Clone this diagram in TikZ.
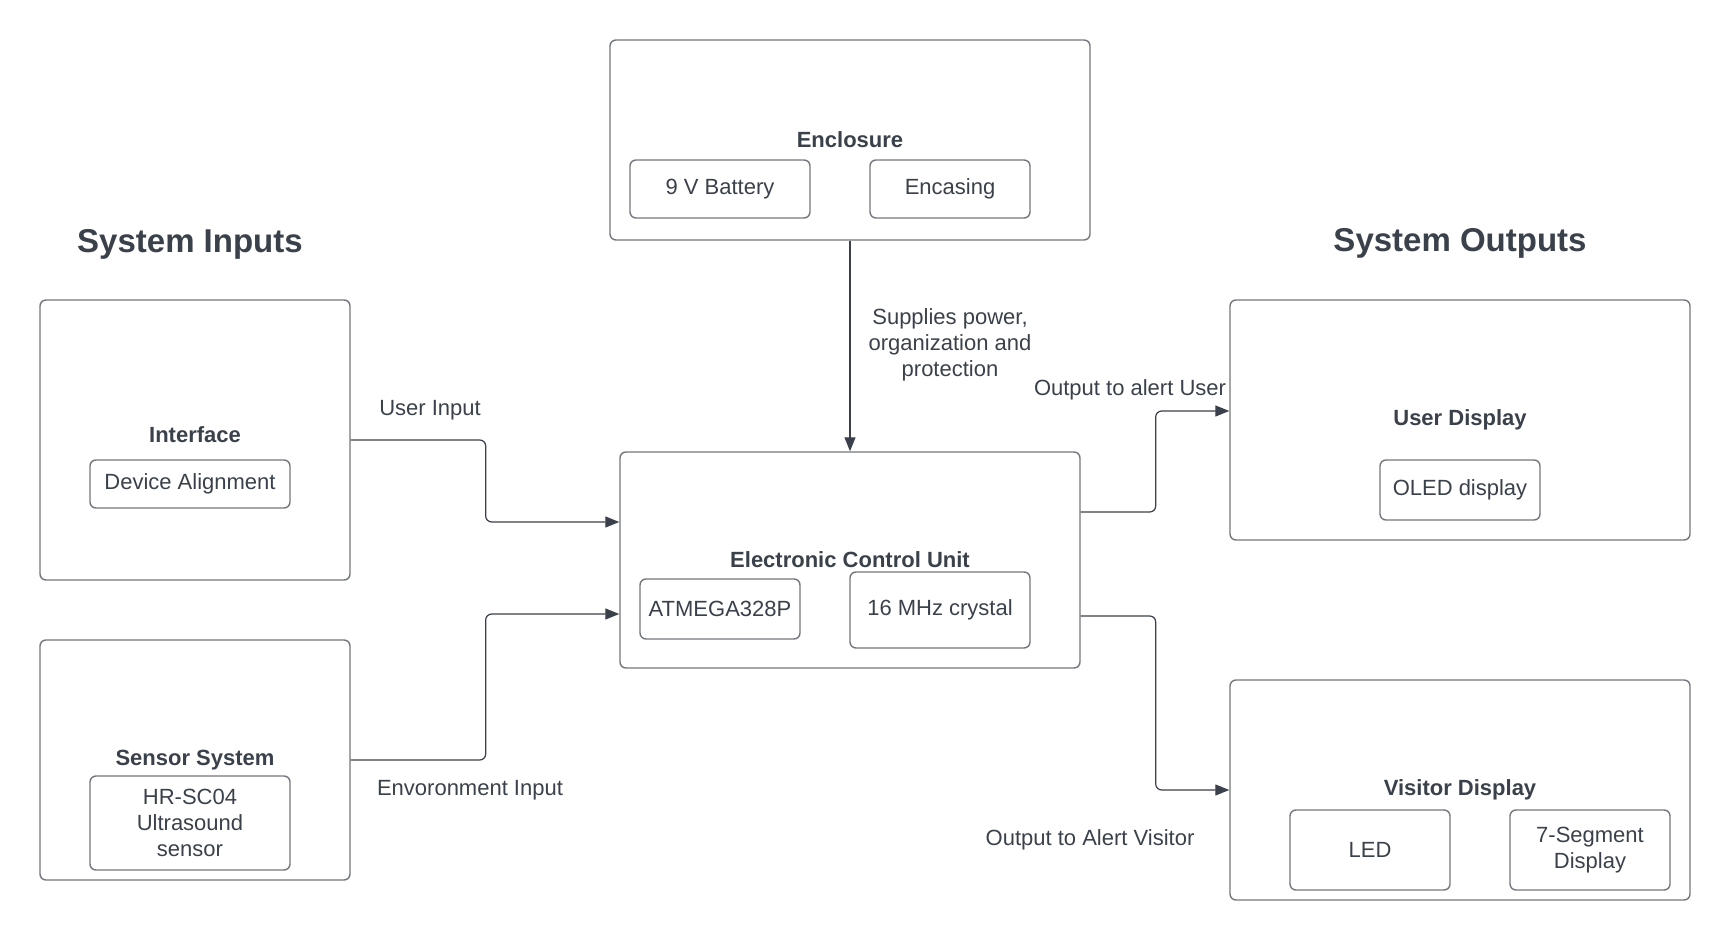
\documentclass[tikz,border=0pt]{standalone}
\usepackage{fontspec}
\setmainfont{Liberation Sans}
\usetikzlibrary{arrows.meta}

\definecolor{ink}{HTML}{3A414A}
\definecolor{rim}{HTML}{73777D}

\begin{document}
\begin{tikzpicture}[x=0.5pt,y=-0.5pt]
				\tikzset{block/.style={draw=rim,line width=0.7pt,rounded corners=3pt,text=ink,align=center,inner sep=0pt,font=\fontsize{11}{13}\selectfont\bfseries},
					part/.style={block,font=\fontsize{11}{13}\selectfont},
					note/.style={text=ink,align=center,inner sep=0pt,font=\fontsize{11}{13}\selectfont},
					head/.style={text=ink,inner sep=0pt,font=\fontsize{16.5}{20}\selectfont\bfseries},
					conn/.style={draw=ink,line width=0.6pt,rounded corners=3pt,-{Triangle[length=7pt,width=5.5pt]}}}
				\useasboundingbox (0,0) rectangle (1730,940);
				% headings
				\node [head] (inhead) at (190,244) {System Inputs};
				\node [head] (outhead) at (1460,243) {System Outputs};
				% main blocks
				\node [block, minimum width=240pt, minimum height=100pt] (encl) at (850,140) {Enclosure};
				\node [block, minimum width=230pt, minimum height=108pt] (ecu) at (850,560) {Electronic Control Unit};
				\node [block, minimum width=155pt, minimum height=140pt] (iface) at (195,440) {};
				\node [text=ink, font=\fontsize{11}{13}\selectfont\bfseries] (ifacename) at (195,435) {Interface};
				\node [block, minimum width=155pt, minimum height=120pt] (sens) at (195,760) {Sensor System};
				\node [block, minimum width=230pt, minimum height=120pt] (udisp) at (1460,420) {User Display};
				\node [block, minimum width=230pt, minimum height=110pt] (vdisp) at (1460,790) {Visitor Display};
				% parts inside the blocks
				\node [part, minimum width=90pt, minimum height=29pt] (batt) at (720,189) {9 V Battery};
				\node [part, minimum width=80pt, minimum height=29pt] (case) at (950,189) {Encasing};
				\node [part, minimum width=80pt, minimum height=30pt] (mcu) at (720,609) {ATMEGA328P};
				\node [part, minimum width=90pt, minimum height=38pt] (xtal) at (940,610) {16 MHz crystal};
				\node [part, minimum width=100pt, minimum height=24pt] (align) at (190,484) {Device Alignment};
				\node [part, minimum width=100pt, minimum height=47pt] (hcsr) at (190,823) {HR-SC04\\Ultrasound\\sensor};
				\node [part, minimum width=80pt, minimum height=30pt] (oled) at (1460,490) {OLED display};
				\node [part, minimum width=80pt, minimum height=40pt] (led) at (1370,850) {LED};
				\node [part, minimum width=80pt, minimum height=40pt] (seg) at (1590,850) {7-Segment\\Display};
				% connectors
				\path [conn] (encl) -- (ecu);
				\path [conn] (iface.east) -- ++(135,0) |- ([yshift=19pt]ecu.west);
				\path [conn] (sens.east) -- ++(135,0) |- ([yshift=-27pt]ecu.west);
				\path [conn] ([yshift=24pt]ecu.east) -- ++(75,0) |- ([yshift=4.5pt]udisp.west);
				\path [conn] ([yshift=-28pt]ecu.east) -- ++(75,0) |- (vdisp.west);
				% connector labels
				\node [note] (lpower) at (950,345) {Supplies power,\\organization and\\protection};
				\node [note] (luser) at (430,410) {User Input};
				\node [note] (lenv) at (470,790) {Envoronment Input};
				\node [note] (lalert) at (1130,390) {Output to alert User};
				\node [note] (lvis) at (1090,840) {Output to Alert Visitor};
			\end{tikzpicture}
\end{document}
